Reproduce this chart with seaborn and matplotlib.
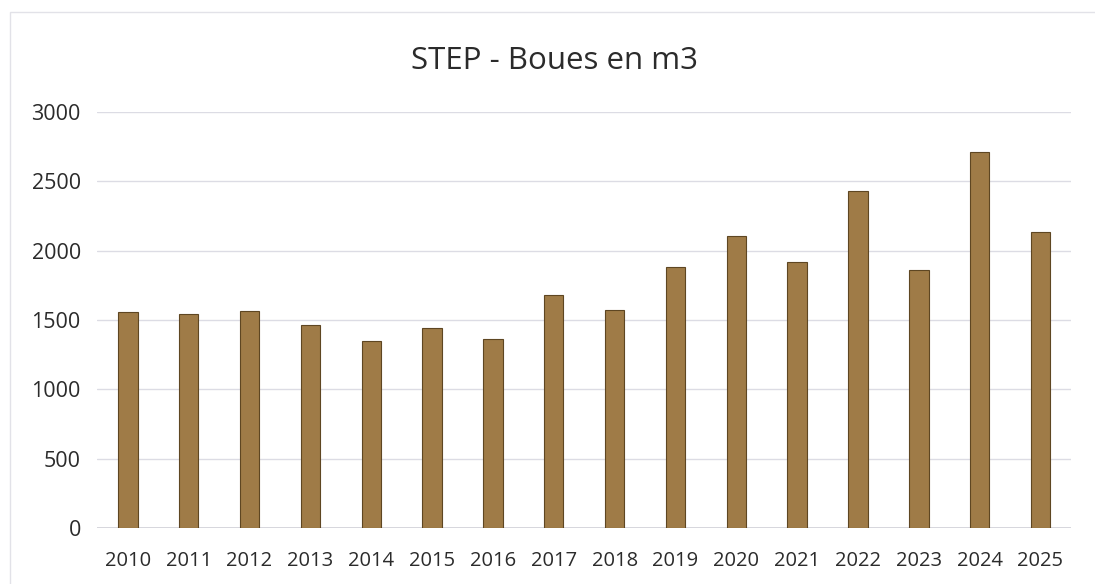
import pandas as pd
import matplotlib.pyplot as plt
import seaborn as sns
from matplotlib.patches import Rectangle

# Data
years = ["2010", "2011", "2012", "2013", "2014", "2015", "2016", "2017",
         "2018", "2019", "2020", "2021", "2022", "2023", "2024", "2025"]
boues_m3 = [1558, 1540, 1565, 1462, 1350, 1440, 1364, 1680,
            1572, 1881, 2104, 1915, 2427, 1857, 2712, 2133]
y_ticks = [0, 500, 1000, 1500, 2000, 2500, 3000]

df = pd.DataFrame({"annee": years, "boues": boues_m3})

sns.set_theme(style="white")
plt.rcParams["font.family"] = ["Open Sans", "DejaVu Sans"]

fig = plt.figure(figsize=(10.95, 5.84), dpi=100)
ax = fig.add_axes([0.089, 0.0954, 0.889, 0.7133])

sns.barplot(data=df, x="annee", y="boues", ax=ax, color="#9f7b47",
            saturation=1, width=0.32, edgecolor="#5e4622", linewidth=0.8)

ax.set_ylim(0, 3000)
ax.set_yticks(y_ticks)
ax.yaxis.grid(True, color="#dcdce4", linewidth=1)
ax.set_axisbelow(True)
for side in ["top", "right", "left", "bottom"]:
    ax.spines[side].set_visible(False)
ax.axhline(0, color="#cfcfd6", linewidth=1.2, zorder=0)

ax.set_xlabel("")
ax.set_ylabel("")
ax.tick_params(axis="x", length=0, pad=16, labelsize=14.5, labelcolor="#2b2b2b")
ax.tick_params(axis="y", length=0, pad=12, labelsize=15.5, labelcolor="#2b2b2b")

fig.text(0.506, 0.896, "STEP - Boues en m3", ha="center", va="center",
         fontsize=22.5, color="#2b2b2b")

# light chart border like the spreadsheet frame
fig.patches.append(Rectangle((0.009, -0.1), 1.2, 1.08, transform=fig.transFigure,
                             fill=False, edgecolor="#e2e2e8", linewidth=1))

fig.savefig("out.png", dpi=100)
